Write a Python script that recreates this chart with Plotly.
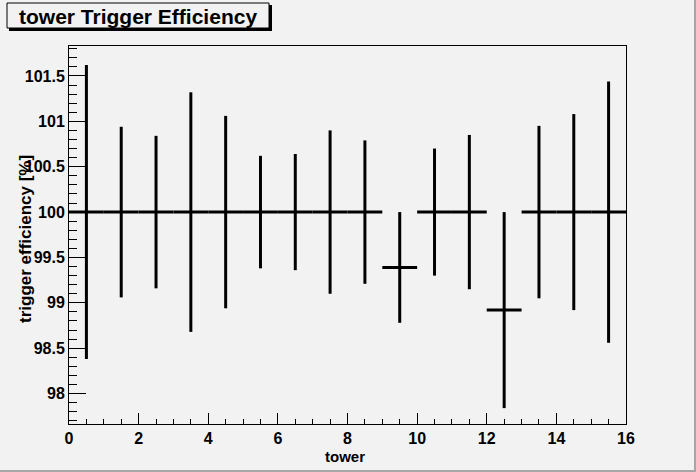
import plotly.graph_objects as go

# tower trigger efficiency per bin (value and symmetric error, in %)
tower = [0.5, 1.5, 2.5, 3.5, 4.5, 5.5, 6.5, 7.5, 8.5, 9.5, 10.5, 11.5, 12.5, 13.5, 14.5, 15.5]
half_width = [0.5] * 16
efficiency = [100, 100, 100, 100, 100, 100, 100, 100, 100, 99.39, 100, 100, 98.92, 100, 100, 100]
eff_err = [1.62, 0.94, 0.84, 1.32, 1.06, 0.62, 0.64, 0.90, 0.79, 0.61, 0.70, 0.85, 1.08, 0.95, 1.08, 1.44]

y_tickvals = [98, 98.5, 99, 99.5, 100, 100.5, 101, 101.5]
y_ticktext = ["98", "98.5", "99", "99.5", "100", "100.5", "101", "101.5"]
x_tickvals = [0, 2, 4, 6, 8, 10, 12, 14, 16]

W, H = 696, 472
L, R, T, B = 69, 626, 46, 424
bg = "#f2f2f2"
font = "Liberation Sans, Arial, sans-serif"


def px(x):
    return (x - L) / (R - L)


def py(y):
    return (B - y) / (B - T)


fig = go.Figure()
fig.add_trace(go.Scatter(
    x=tower, y=efficiency, mode="markers",
    marker=dict(size=1, color="black", opacity=0),
    error_y=dict(type="data", array=eff_err, color="black", thickness=3, width=0),
    error_x=dict(type="data", array=half_width, color="black", thickness=3, width=0),
    showlegend=False, hoverinfo="skip",
))

shapes = [
    # canvas bevel (right / bottom)
    dict(type="rect", xref="paper", yref="paper", x0=px(694), x1=px(696), y0=py(472), y1=py(0),
         fillcolor="#a6a6a6", line_width=0, layer="below"),
    dict(type="rect", xref="paper", yref="paper", x0=px(0), x1=px(696), y0=py(472), y1=py(470),
         fillcolor="#a6a6a6", line_width=0, layer="below"),
    # title box shadow + box
    dict(type="rect", xref="paper", yref="paper", x0=px(9), x1=px(272), y0=py(31), y1=py(5),
         fillcolor="black", line_width=0),
    dict(type="rect", xref="paper", yref="paper", x0=px(7), x1=px(269), y0=py(28), y1=py(3),
         fillcolor=bg, line=dict(color="black", width=1)),
]

annotations = [
    dict(text="<b>tower Trigger Efficiency</b>", xref="paper", yref="paper",
         x=px(138), y=py(16), xanchor="center", yanchor="middle", showarrow=False,
         font=dict(family=font, size=21, color="black")),
    dict(text="<b>tower</b>", xref="paper", yref="paper",
         x=px(345), y=py(456), xanchor="center", yanchor="middle", showarrow=False,
         font=dict(family=font, size=15, color="black")),
    dict(text="<b>trigger efficiency [%]</b>", xref="paper", yref="paper",
         x=px(25), y=py(239), xanchor="center", yanchor="middle", showarrow=False, textangle=-90,
         font=dict(family=font, size=17, color="black")),
]

fig.update_layout(
    width=W, height=H,
    margin=dict(l=L, r=W - R, t=T, b=H - B, pad=0),
    paper_bgcolor=bg, plot_bgcolor=bg,
    shapes=shapes, annotations=annotations,
    font=dict(family=font, color="black"),
)
fig.update_xaxes(
    range=[0, 16], showgrid=False, zeroline=False,
    showline=True, linecolor="black", linewidth=1, mirror=True,
    ticks="inside", ticklen=11, tickwidth=1, tickcolor="black",
    tickmode="array", tickvals=x_tickvals,
    tickfont=dict(family=font, size=16, color="black", weight="bold"),
    minor=dict(ticks="inside", ticklen=5, dtick=0.5, tickcolor="black", showgrid=False),
)
fig.update_yaxes(
    range=[97.665, 101.83], showgrid=False, zeroline=False,
    showline=True, linecolor="black", linewidth=1, mirror=True,
    ticks="inside", ticklen=17, tickwidth=1, tickcolor="black",
    tickmode="array", tickvals=y_tickvals, ticktext=y_ticktext,
    tickfont=dict(family=font, size=16, color="black", weight="bold"),
    minor=dict(ticks="inside", ticklen=8, dtick=0.1, tick0=98, tickcolor="black", showgrid=False),
)

fig.write_html("out.html", config={"displayModeBar": False},
               post_script="document.body.style.margin='0';")
